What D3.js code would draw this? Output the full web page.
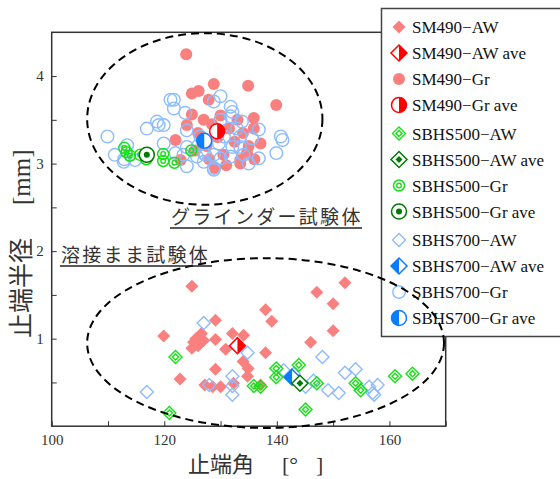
<!DOCTYPE html>
<html>
<head>
<meta charset="utf-8">
<script src="https://cdn.jsdelivr.net/npm/d3@7"></script>
<style>
  body { margin: 0; background: #fff; }
  svg { display: block; }
</style>
</head>
<body>
<div id="chart"></div>
<script>
// --- data: [止端角 (deg), 止端半径 (mm)] ---
const sm490AW = [
  [124.9,1.60],[129.1,1.21],[119.9,1.03],[132.1,1.06],[134.1,1.04],[126.6,1.06],
  [125.2,0.96],[127.0,0.98],[129.1,0.99],[124.9,0.89],[130.9,0.88],[138.0,1.33],
  [139.1,1.20],[138.0,0.84],[134.0,0.74],[134.9,0.66],[129.1,0.65],[122.8,0.54],
  [127.2,0.47],[128.6,0.45],[130.0,0.45],[134.8,0.57],[132.3,0.49],[152.1,1.64],
  [147.1,1.53],[150.0,1.40],[150.0,1.09],[146.0,0.96],[137.1,0.47],[126.0,0.92],
  [125.6,1.00]
];
const sm490AWave = [[133.0,0.92]];
const sm490Gr = [
  [123.9,4.25],[124.9,3.80],[126.1,3.83],[127.9,3.73],[128.8,3.91],[134.9,3.89],
  [139.9,3.67],[124.9,3.56],[135.9,3.52],[135.9,3.40],[137.1,3.23],[122.0,3.27],
  [124.0,3.44],[122.9,3.04],[134.7,3.12],[133.5,3.04],[126.0,3.35],[127.5,3.20],
  [128.5,3.45],[129.5,3.30],[130.5,3.10],[131.5,3.40],[132.5,3.25],[133.0,3.50],
  [134.0,3.35],[135.0,3.20],[128.0,3.05],[130.0,3.55],[127.0,3.50],[136.0,3.05],
  [131.0,2.98],[125.5,3.15],[133.5,3.00],[129.0,2.95]
];
const sm490GrAve = [[129.4,3.37]];
const sbhs500AW = [
  [122.0,0.79],[120.9,0.15],[139.9,0.66],[139.9,0.56],[135.9,0.46],[137.1,0.45],
  [143.9,0.70],[147.1,0.49],[154.0,0.49],[154.9,0.41],[145.1,0.19],[161.0,0.57],
  [164.1,0.60]
];
const sbhs500AWave = [[144.1,0.49]];
const sbhs500Gr = [
  [112.9,3.18],[113.3,3.13],[113.9,3.09],[115.7,3.10],[116.8,3.05],[119.8,3.11],
  [119.8,3.03],[121.8,3.01],[124.8,3.15]
];
const sbhs500GrAve = [[116.9,3.10]];
const sbhs700AW = [
  [127.0,1.18],[116.9,0.39],[128.0,0.47],[132.1,0.57],[132.1,0.46],[132.1,0.36],
  [134.8,0.84],[148.1,0.79],[141.2,0.64],[143.0,0.60],[145.1,0.45],[149.1,0.41],
  [151.0,0.38],[152.1,0.61],[154.0,0.65],[156.4,0.45],[157.9,0.47],[157.0,0.38],
  [157.3,0.36],[142.4,0.57],[146.5,0.52]
];
const sbhs700AWave = [[142.7,0.56]];
const sbhs700Gr = [
  [109.9,3.31],[111.2,3.10],[112.9,3.05],[114.8,3.04],[113.4,3.21],[116.9,3.40],
  [118.7,3.48],[119.0,3.44],[119.9,3.44],[119.9,3.23],[121.7,3.73],[121.7,3.63],
  [121.1,3.73],[123.7,3.58],[122.0,3.12],[124.0,2.97],[124.0,3.38],[124.0,3.19],
  [123.4,3.10],[126.1,3.21],[126.4,3.31],[125.8,3.08],[127.3,3.10],[112.8,3.02],
  [130.0,3.77],[128.8,3.71],[131.8,3.65],[132.1,3.59],[131.8,3.54],[130.0,3.50],
  [133.8,3.48],[132.9,3.40],[136.8,3.39],[135.6,3.29],[140.7,3.31],[141.0,3.27],
  [139.9,3.12],[136.8,3.06],[135.0,3.00],[134.1,3.10],[131.8,3.08],[132.1,3.19],
  [129.7,3.23],[128.8,2.95],[128.8,3.10],[127.0,3.12],[127.0,3.02],[130.0,3.06],
  [133.5,3.31],[130.6,3.31],[133.5,3.19],[128.8,2.93]
];
const sbhs700GrAve = [[127.1,3.26]];

const xTicks = [100, 110, 120, 130, 140, 150, 160, 170];
const xLabels = [100, 120, 140, 160];
const yTicks = [0.5, 1, 1.5, 2, 2.5, 3, 3.5, 4];
const yLabels = [1, 2, 3, 4];

// dashed ellipses (data units)
const groups = [
  {name: 'グラインダー試験体', cx: 127.2, cy: 3.51, rx: 20.9, ry: 0.98},
  {name: '溶接まま試験体', cx: 138.0, cy: 0.95, rx: 31.7, ry: 0.97}
];

const PINK = '#fa8080', RED = '#ff0000', LIME = '#18e018', DKGREEN = '#007a00',
      LTBLUE = '#8cbcff', BLUE = '#0a7cff';

const W = 560, H = 479;
const x = d3.scaleLinear().domain([100, 170]).range([51.7, 445.7]);
const y = d3.scaleLinear().domain([0, 4.5]).range([426.2, 32.3]);

const svg = d3.select('#chart').append('svg').attr('width', W).attr('height', H);

// marker shapes
const diamond = r => `M0,${-r}L${r},0L0,${r}L${-r},0Z`;
const halfDiamond = (r, side) => `M0,${-r}L${side * r},0L0,${r}Z`;
const halfCircle = (r, side) => `M0,${-r}A${r},${r} 0 0 ${side > 0 ? 1 : 0} 0,${r}Z`;

const markers = {
  sm490AW: g => g.append('path').attr('d', diamond(6.5)).attr('fill', PINK),
  sm490AWave: g => {
    g.append('path').attr('d', diamond(8)).attr('fill', '#fff');
    g.append('path').attr('d', halfDiamond(8, 1)).attr('fill', RED);
    g.append('path').attr('d', diamond(8)).attr('fill', 'none').attr('stroke', RED).attr('stroke-width', 1.5);
  },
  sm490Gr: g => g.append('circle').attr('r', 6).attr('fill', PINK),
  sm490GrAve: g => {
    g.append('circle').attr('r', 7.5).attr('fill', '#fff');
    g.append('path').attr('d', halfCircle(7.5, 1)).attr('fill', RED);
    g.append('circle').attr('r', 7.5).attr('fill', 'none').attr('stroke', RED).attr('stroke-width', 1.5);
  },
  sbhs500AW: g => {
    g.append('path').attr('d', diamond(6.5)).attr('fill', 'none').attr('stroke', LIME).attr('stroke-width', 1.4);
    g.append('path').attr('d', diamond(3)).attr('fill', 'none').attr('stroke', LIME).attr('stroke-width', 1.4);
  },
  sbhs500AWave: g => {
    g.append('path').attr('d', diamond(8)).attr('fill', '#fff').attr('stroke', DKGREEN).attr('stroke-width', 1.5);
    g.append('path').attr('d', diamond(3.5)).attr('fill', DKGREEN);
  },
  sbhs500Gr: g => {
    g.append('circle').attr('r', 5.5).attr('fill', 'none').attr('stroke', LIME).attr('stroke-width', 1.5);
    g.append('circle').attr('r', 2.3).attr('fill', 'none').attr('stroke', LIME).attr('stroke-width', 1.4);
  },
  sbhs500GrAve: g => {
    g.append('circle').attr('r', 7.5).attr('fill', '#fff').attr('stroke', DKGREEN).attr('stroke-width', 1.5);
    g.append('circle').attr('r', 3).attr('fill', DKGREEN);
  },
  sbhs700AW: g => g.append('path').attr('d', diamond(6.5)).attr('fill', 'none').attr('stroke', LTBLUE).attr('stroke-width', 1.4),
  sbhs700AWave: g => {
    g.append('path').attr('d', diamond(8)).attr('fill', '#fff');
    g.append('path').attr('d', halfDiamond(8, -1)).attr('fill', BLUE);
    g.append('path').attr('d', diamond(8)).attr('fill', 'none').attr('stroke', BLUE).attr('stroke-width', 1.5);
  },
  sbhs700Gr: g => g.append('circle').attr('r', 6.3).attr('fill', 'none').attr('stroke', LTBLUE).attr('stroke-width', 1.4),
  sbhs700GrAve: g => {
    g.append('circle').attr('r', 7.5).attr('fill', '#fff');
    g.append('path').attr('d', halfCircle(7.5, -1)).attr('fill', BLUE);
    g.append('circle').attr('r', 7.5).attr('fill', 'none').attr('stroke', BLUE).attr('stroke-width', 1.5);
  }
};

const series = [
  {key: 'sm490AW', label: 'SM490−AW', data: sm490AW, grp: 0},
  {key: 'sm490AWave', label: 'SM490−AW ave', data: sm490AWave, grp: 0},
  {key: 'sm490Gr', label: 'SM490−Gr', data: sm490Gr, grp: 0},
  {key: 'sm490GrAve', label: 'SM490−Gr ave', data: sm490GrAve, grp: 0},
  {key: 'sbhs500AW', label: 'SBHS500−AW', data: sbhs500AW, grp: 1},
  {key: 'sbhs500AWave', label: 'SBHS500−AW ave', data: sbhs500AWave, grp: 1},
  {key: 'sbhs500Gr', label: 'SBHS500−Gr', data: sbhs500Gr, grp: 1},
  {key: 'sbhs500GrAve', label: 'SBHS500−Gr ave', data: sbhs500GrAve, grp: 1},
  {key: 'sbhs700AW', label: 'SBHS700−AW', data: sbhs700AW, grp: 2},
  {key: 'sbhs700AWave', label: 'SBHS700−AW ave', data: sbhs700AWave, grp: 2},
  {key: 'sbhs700Gr', label: 'SBHS700−Gr', data: sbhs700Gr, grp: 2},
  {key: 'sbhs700GrAve', label: 'SBHS700−Gr ave', data: sbhs700GrAve, grp: 2}
];

// axes (ticks inward, no domain line; frame drawn separately)
const tickFont = '15px "Liberation Serif", "Times New Roman", serif';
const xAxis = d3.axisBottom(x).tickValues(xTicks).tickSizeInner(-5).tickSizeOuter(0)
  .tickFormat(d => xLabels.includes(d) ? d : '');
const yAxis = d3.axisLeft(y).tickValues(yTicks).tickSizeInner(-5).tickSizeOuter(0)
  .tickFormat(d => yLabels.includes(d) ? d : '');

const gx = svg.append('g').attr('transform', `translate(0,${y(0)})`).call(xAxis);
gx.select('.domain').remove();
gx.selectAll('line').attr('stroke', '#333').attr('stroke-width', 1);
gx.selectAll('text').attr('y', 8).style('font', tickFont).attr('fill', '#333');

const gy = svg.append('g').attr('transform', `translate(${x(100)},0)`).call(yAxis);
gy.select('.domain').remove();
gy.selectAll('line').attr('stroke', '#333').attr('stroke-width', 1);
gy.selectAll('text').attr('x', -8).style('font', tickFont).attr('fill', '#333');

// points: pink, blue, green, then averages on top
const order = ['sm490AW', 'sm490Gr', 'sbhs700AW', 'sbhs700Gr', 'sbhs500AW', 'sbhs500Gr',
  'sm490AWave', 'sm490GrAve', 'sbhs700AWave', 'sbhs700GrAve', 'sbhs500AWave', 'sbhs500GrAve'];
const plot = svg.append('g');
order.forEach(k => {
  const s = series.find(d => d.key === k);
  plot.append('g').selectAll('g').data(s.data).join('g')
    .attr('transform', d => `translate(${x(d[0])},${y(d[1])})`)
    .each(function() { markers[k](d3.select(this)); });
});

// frame
svg.append('rect')
  .attr('x', x(100)).attr('y', y(4.5))
  .attr('width', x(170) - x(100)).attr('height', y(0) - y(4.5))
  .attr('fill', 'none').attr('stroke', '#333').attr('stroke-width', 1.5);

// axis titles
const cjk = '"Noto Sans CJK JP", "Noto Sans", sans-serif';
const serif = '"Liberation Serif", "Times New Roman", serif';
const xt = svg.append('text').attr('x', 188).attr('y', 472)
  .style('font-family', cjk).style('font-size', '22px').attr('fill', '#333');
xt.append('tspan').text('止端角');
xt.append('tspan').attr('x', 282).style('font-family', serif).text('[°');
xt.append('tspan').attr('x', 316).style('font-family', serif).text(']');

const yt = svg.append('text').attr('transform', 'translate(30,338) rotate(-90)')
  .style('font-family', cjk).style('font-size', '25px').attr('fill', '#333');
yt.append('tspan').text('止端半径');
yt.append('tspan').attr('x', 133).style('font-family', serif).text('[mm]');

// legend
const LX = 381.5, LY = 8.5;
const legend = svg.append('g');
legend.append('rect').attr('x', LX).attr('y', LY).attr('width', 200).attr('height', 328)
  .attr('fill', '#fff').attr('stroke', '#444').attr('stroke-width', 1.5);
const rows = legend.selectAll('g.row').data(series).join('g').attr('class', 'row')
  .attr('transform', (d, i) => `translate(399,${27 + i * 26 + d.grp * 2.5})`);
rows.each(function(d) { markers[d.key](d3.select(this).append('g')); });
rows.append('text').attr('x', 13).attr('y', 6)
  .style('font-family', serif).style('font-size', '17px').attr('fill', '#111')
  .text(d => d.label);

// dashed ellipses and group labels (drawn over the legend)
svg.append('g').selectAll('ellipse').data(groups).join('ellipse')
  .attr('cx', d => x(d.cx)).attr('cy', d => y(d.cy))
  .attr('rx', d => x(d.cx + d.rx) - x(d.cx)).attr('ry', d => y(d.cy - d.ry) - y(d.cy))
  .attr('fill', 'none').attr('stroke', '#000').attr('stroke-width', 2)
  .attr('stroke-dasharray', '8,5');

const labelPos = [{x: 171, y: 224, w: 191}, {x: 61, y: 262, w: 151}];
groups.forEach((g, i) => {
  const p = labelPos[i];
  svg.append('text').attr('x', p.x).attr('y', p.y)
    .style('font-family', cjk).style('font-size', '19px').style('letter-spacing', '2.3px')
    .attr('fill', '#333').text(g.name);
  svg.append('line').attr('x1', p.x - 1).attr('x2', p.x + p.w).attr('y1', p.y + 4).attr('y2', p.y + 4)
    .attr('stroke', '#222').attr('stroke-width', 1.3);
});
</script>
</body>
</html>
